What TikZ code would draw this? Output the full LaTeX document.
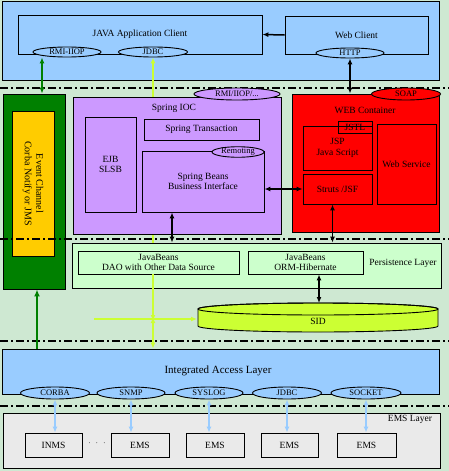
\documentclass[tikz,border=0pt]{standalone}
\usepackage{fontspec}
\setmainfont{Liberation Serif}
\usetikzlibrary{arrows.meta,shapes.geometric}

\definecolor{bgGreen}{RGB}{206,232,210}
\definecolor{clientBlue}{RGB}{153,204,255}
\definecolor{iocPurple}{RGB}{204,153,255}
\definecolor{webRed}{RGB}{255,0,0}
\definecolor{eventGreen}{RGB}{0,128,0}
\definecolor{eventGold}{RGB}{255,204,0}
\definecolor{persistGreen}{RGB}{204,255,204}
\definecolor{sidYellow}{RGB}{204,255,51}
\definecolor{emsGray}{RGB}{234,234,234}

\begin{document}
\begin{tikzpicture}[x=1pt, y=-1pt, font=\fontsize{9.5}{10.5}\selectfont,
  box/.style={draw, line width=0.9pt, rectangle, inner sep=0pt, align=center},
  tag/.style={draw, line width=0.9pt, ellipse, inner sep=0pt, font=\fontsize{8.5}{9}\selectfont},
  sepline/.style={line width=1.3pt, dash pattern=on 8pt off 3pt on 2pt off 3pt},
  tips/.style={{Latex[length=6pt,width=5pt]}-{Latex[length=6pt,width=5pt]}},
  blackarrow/.style={line width=1.5pt, tips},
  greenarrow/.style={line width=2pt, eventGreen, tips},
  yellowarrow/.style={line width=1.5pt, sidYellow},
  bluearrow/.style={line width=1.5pt, clientBlue, tips}]

\useasboundingbox (0,0) rectangle (449,471);

\fill[bgGreen] (0,0) rectangle (449,471);

\node[box, fill=clientBlue, minimum width=437pt, minimum height=79pt] (client) at (220.5,40.5) {};

\node[box, minimum width=244pt, minimum height=39pt] (javaapp) at (140,34.5) {JAVA Application Client};

\node[box, minimum width=143pt, minimum height=38pt] (webclient) at (356.5,35) {Web Client};

\node[tag, fill=clientBlue, minimum width=68pt, minimum height=10pt] (rmiiiop) at (67,52) {RMI-IIOP};

\node[tag, fill=clientBlue, minimum width=69pt, minimum height=10pt] (jdbc) at (153,52) {JDBC};

\node[tag, fill=clientBlue, minimum width=68pt, minimum height=10pt] (http) at (350,53) {HTTP};

\draw[line width=1.5pt, -{Latex[length=6pt,width=5pt]}] (webclient.west) -- (javaapp.east);

\draw[sepline] (0,88) -- (449,88);

\node[box, fill=eventGreen, minimum width=62pt, minimum height=195pt] (event) at (34,191.5) {};

\node[box, fill=eventGold, minimum width=42pt, minimum height=145pt] (eventin) at (33,183.5) {};

\node[rotate=-90, align=center, font=\fontsize{10}{11.5}\selectfont] (eventtext) at (eventin.center) {Event Channel\\Corba Notify or JMS};

\draw[greenarrow] ([xshift=8pt]event.north |- rmiiiop.south) -- ([xshift=8pt]event.north);

\node[box, fill=persistGreen, minimum width=369pt, minimum height=45pt] (persist) at (256.5,265.5) {};

\node (persisttext) at (403,263) {Persistence Layer};

\draw[yellowarrow, {Latex[length=6pt,width=5pt]}-] (jdbc.south) -- (jdbc.south |- persist.north);

\node[box, fill=iocPurple, minimum width=208pt, minimum height=137pt] (springioc) at (177,165.5) {};

\node (ioctext) at (174,108) {Spring IOC};

\node[tag, fill=iocPurple, minimum width=86pt, minimum height=12pt] (rmi) at (237,94) {RMI/IIOP/...};

\node[box, minimum width=51pt, minimum height=95pt] (ejb) at (110.5,164.5) {EJB\\SLSB};

\node[box, minimum width=115pt, minimum height=21pt] (springtx) at (201.5,129.5) {Spring Transaction};

\node[box, minimum width=122pt, minimum height=61pt] (springbeans) at (203,181.5) {Spring Beans\\Business Interface};

\node[tag, fill=iocPurple, minimum width=52pt, minimum height=10pt] (remoting) at (238,152) {Remoting};

\node[box, fill=webRed, minimum width=147pt, minimum height=138pt] (webcont) at (365.5,163) {};

\node (webtext) at (365,110) {WEB Container};

\node[tag, fill=webRed, minimum width=69pt, minimum height=12pt] (soap) at (406,94) {SOAP};

\node[box, minimum width=69pt, minimum height=44pt] (jsp) at (337.5,148) {JSP\\Java Script};

\node[box, minimum width=34pt, minimum height=12pt] (jstl) at (355,127) {JSTL};

\node[box, minimum width=59pt, minimum height=80pt] (websvc) at (406.5,164) {Web Service};

\node[box, minimum width=69pt, minimum height=30pt] (struts) at (337.5,189) {Struts /JSF};

\draw[blackarrow] (http.south) -- (http.south |- webcont.north);

\draw[blackarrow] (struts.west -| springbeans.east) -- (struts.west);

\draw[blackarrow] ([xshift=-31pt]springbeans.south) -- ([xshift=-31pt]springbeans.south |- persist.north);

\draw[blackarrow] ([xshift=-5pt]struts.south) -- ([xshift=-5pt]struts.south |- persist.north);

\draw[sepline] (0,239) -- (449,239);

\node[box, minimum width=161pt, minimum height=23pt, font=\fontsize{9.5}{10}\selectfont] (dao) at (158.5,262.5) {JavaBeans\\DAO with Other Data Source};

\node[box, minimum width=115pt, minimum height=23pt, font=\fontsize{9.5}{10}\selectfont] (orm) at (305.5,262.5) {JavaBeans\\ORM-Hibernate};

\filldraw[fill=sidYellow, line width=0.9pt] (198,309) -- (198,326) arc[start angle=180, end angle=0, x radius=120, y radius=6] -- (438,309) arc[start angle=0, end angle=-180, x radius=120, y radius=6] -- cycle;

\draw[line width=0.9pt] (318,309) ellipse [x radius=120, y radius=6];

\node (sid) at (318,321) {SID};

\coordinate (sidtop) at (319,303);

\coordinate (sidleft) at (197,319);

\coordinate (ycross) at (153,319);

\coordinate (yfeed) at (94,319);

\draw[blackarrow] ([xshift=13.5pt]orm.south) -- (sidtop);

\draw[yellowarrow, -{Latex[length=6pt,width=5pt]}] (jdbc.south |- dao.south) -- ([yshift=-2pt]ycross);

\draw[yellowarrow, -{Latex[length=6pt,width=5pt]}] (yfeed) -- (sidleft);

\draw[sepline] (0,341) -- (449,341);

\node[box, fill=clientBlue, minimum width=437pt, minimum height=45pt] (ial) at (220.5,371.5) {};

\node[font=\fontsize{11}{12}\selectfont] (ialtext) at (218,371) {Integrated Access Layer};

\draw[yellowarrow, tips] ([yshift=2pt]ycross) -- (ycross |- ial.north);

\draw[greenarrow, -{Latex[length=7pt,width=6pt]}] ([xshift=3pt]event.south |- ial.north) -- ([xshift=3pt]event.south);

\node[tag, fill=clientBlue, minimum width=69pt, minimum height=12pt] (corba) at (55,393) {CORBA};

\node[tag, fill=clientBlue, minimum width=68pt, minimum height=12pt] (snmp) at (131,393) {SNMP};

\node[tag, fill=clientBlue, minimum width=68pt, minimum height=12pt] (syslog) at (209,393) {SYSLOG};

\node[tag, fill=clientBlue, minimum width=69pt, minimum height=12pt] (jdbcems) at (287,393) {JDBC};

\node[tag, fill=clientBlue, minimum width=70pt, minimum height=12pt] (socket) at (366,393) {SOCKET};

\draw[sepline] (0,406) -- (449,406);

\node[box, fill=emsGray, minimum width=437pt, minimum height=55pt] (emslayer) at (221.5,440.5) {};

\node (emstext) at (410,419) {EMS Layer};

\node[box, minimum width=57pt, minimum height=24pt] (inms) at (53.5,445) {INMS};

\node (dots) at (97,443) {$\cdot$ \ $\cdot$ \ $\cdot$};

\node[box, minimum width=58pt, minimum height=24pt] (ems1) at (140,445) {EMS};

\node[box, minimum width=58pt, minimum height=24pt] (ems2) at (215,445) {EMS};

\node[box, minimum width=57pt, minimum height=24pt] (ems3) at (289.5,445) {EMS};

\node[box, minimum width=59pt, minimum height=24pt] (ems4) at (366.5,445) {EMS};

\draw[bluearrow] (corba.south) -- (corba.south |- inms.north);

\draw[bluearrow] (snmp.south) -- (snmp.south |- ems1.north);

\draw[bluearrow] (syslog.south) -- (syslog.south |- ems2.north);

\draw[bluearrow] (jdbcems.south) -- (jdbcems.south |- ems3.north);

\draw[bluearrow] (socket.south) -- (socket.south |- ems4.north);

\end{tikzpicture}
\end{document}
